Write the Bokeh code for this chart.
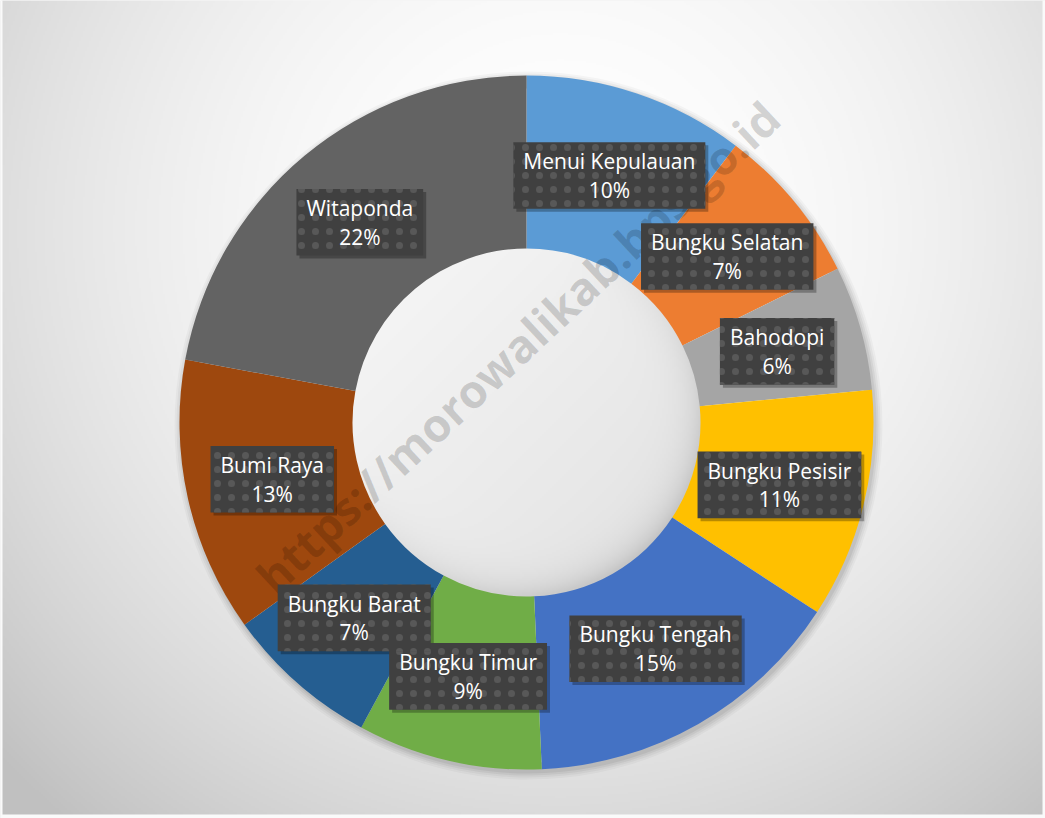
import numpy as np
from bokeh.plotting import figure
from bokeh.models import ColumnDataSource, Range1d
from bokeh.core.properties import value
from bokeh.embed import file_html
from bokeh.resources import INLINE

# ---------------- data ----------------
districts = ["Menui Kepulauan", "Bungku Selatan", "Bahodopi", "Bungku Pesisir",
             "Bungku Tengah", "Bungku Timur", "Bungku Barat", "Bumi Raya", "Witaponda"]
shares = [10.3, 7.4, 5.8, 10.7, 15.1, 8.6, 7.2, 12.8, 22.1]
colors = ["#5B9BD5", "#ED7D31", "#A5A5A5", "#FFC000", "#4472C4",
          "#70AD47", "#255E91", "#9E480E", "#636363"]
watermark = "https://morowalikab.bps.go.id"

# ---------------- layout (pixel space, y up) ----------------
W, H = 1045, 818
cx, cy_ref = 526.0, 422.0
cy = H - cy_ref
r_out, r_in = 347.0, 174.0

p = figure(width=W, height=H, output_backend="svg", toolbar_location=None,
           x_range=Range1d(0, W), y_range=Range1d(0, H), min_border=0)
p.xaxis.visible = False
p.yaxis.visible = False
p.grid.visible = False
p.outline_line_color = None
p.background_fill_color = "#e6e6e6"
p.border_fill_color = "#e6e6e6"

# ---------------- background gradient + shaded hole ----------------
step = 2
nx, ny = W // step + 1, H // step + 1
Xs = (np.arange(nx) + 0.5) * step
Ys = (np.arange(ny) + 0.5) * step          # top-down coords
XX, YY = np.meshgrid(Xs, Ys)
d2 = (XX - 560) ** 2 + (YY - 230) ** 2
g = 255 - 1.05e-4 * d2
g = np.clip(g, 192, 255)

u = (XX - cx) / r_in
v = (YY - cy_ref) / r_in
rr = np.sqrt(u ** 2 + v ** 2)
hole = rr < 1.03
diag = (u + v) / 1.414
hg = 236 - 8 * diag - 20 * (np.clip(rr, 0, 1) ** 10) * np.clip(diag + 0.5, 0, 1.5)
g = np.where(hole, hg, g)

# thin light frame like the original chart area border
frame = (XX < 3) | (YY < 3) | (XX > W - 3) | (YY > H - 3)
g = np.where(frame, 250, g)

img = np.empty((ny, nx), dtype=np.uint32)
view = img.view(dtype=np.uint8).reshape((ny, nx, 4))
gi = np.clip(g, 0, 255).astype(np.uint8)
view[..., 0] = gi
view[..., 1] = gi
view[..., 2] = gi
view[..., 3] = 255
img = img[::-1]
p.image_rgba(image=[img], x=0, y=0, dw=nx * step, dh=ny * step)

# ---------------- soft shadow of the ring ----------------
for k, a in [(7, 0.03), (5, 0.04), (3, 0.05), (1, 0.06)]:
    p.annulus(x=[cx + 2], y=[cy - 3], inner_radius=r_out - 10, outer_radius=r_out + k,
              fill_color="black", fill_alpha=a, line_color=None)

# ---------------- donut wedges ----------------
vals = np.array(shares, dtype=float)
total = vals.sum()
cum = np.concatenate([[0.0], np.cumsum(vals)])
start = np.pi / 2 - 2 * np.pi * cum[:-1] / total
end = np.pi / 2 - 2 * np.pi * cum[1:] / total
mid = (start + end) / 2
pct = vals / total * 100
labels = [f"{n}\n{int(q + 0.5)}%" for n, q in zip(districts, pct)]
r_mid = (r_in + r_out) / 2

src = ColumnDataSource(dict(
    name=districts, share=shares, color=colors,
    start=start, end=end,
    lx=cx + r_mid * np.cos(mid), ly=cy + r_mid * np.sin(mid),
    label=labels,
))

p.annular_wedge(x=cx, y=cy, inner_radius=r_in, outer_radius=r_out,
                start_angle="start", end_angle="end", direction="clock",
                fill_color="color", line_color=None, source=src)

# ---------------- watermark ----------------
p.text(x=[517], y=[H - 346], text=[watermark], angle=np.deg2rad(43.0),
       text_align="center", text_baseline="middle",
       text_font=value("Open Sans"), text_font_style="bold",
       text_font_size="46px", text_color="black", text_alpha=0.16)

# ---------------- data labels ----------------
fs = "21px"
lh = 1.02
pad = dict(left=10, right=10, top=5, bottom=5)
p.text(x="lx", y="ly", text="label", source=src,
       text_align="center", text_baseline="middle",
       text_font=value("Open Sans"), text_font_size=fs,
       text_line_height=lh, text_alpha=0.0,
       x_offset=3, y_offset=3,
       background_fill_color="black", background_fill_alpha=0.28,
       padding=pad)
p.text(x="lx", y="ly", text="label", source=src,
       text_align="center", text_baseline="middle",
       text_font=value("Open Sans"), text_font_size=fs,
       text_line_height=lh, text_color="white",
       background_fill_color="#404040",
       background_hatch_pattern="dot", background_hatch_color="#585858",
       background_hatch_scale=14, background_hatch_weight=2.4,
       padding=pad)

open("out.html", "w").write(file_html(p, INLINE))
